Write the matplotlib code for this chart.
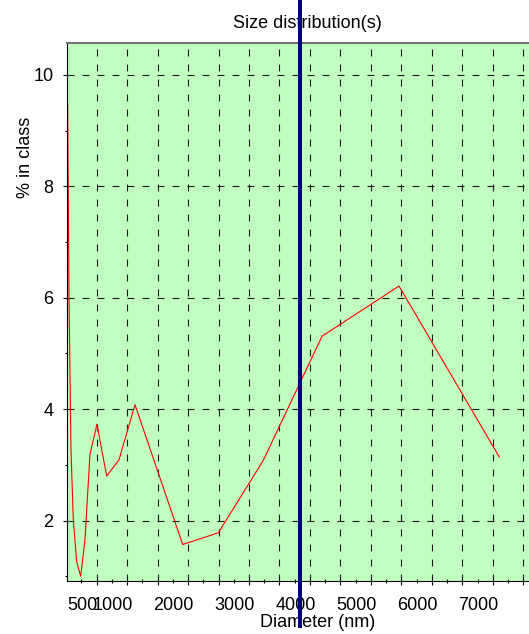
import matplotlib
matplotlib.use("Agg")
import matplotlib.pyplot as plt

plt.rcParams['font.family'] = ['Liberation Sans', 'DejaVu Sans']
plt.rcParams['lines.scale_dashes'] = False

# size distribution
diameter = [259, 281, 314, 351, 407, 473, 543, 625, 740, 899, 1101, 1364,
            2147, 2731, 3469, 4433, 5696, 7342]
percent = [9.47, 6.0, 3.26, 2.03, 1.26, 1.00, 1.65, 3.19, 3.73, 2.80, 3.09, 4.08,
           1.57, 1.78, 3.08, 5.31, 6.21, 3.14]

marker_x = 4070

x_labels = ['500', '1000', '2000', '3000', '4000', '5000', '6000', '7000']
x_label_pos = [500, 1000, 2000, 3000, 4000, 5000, 6000, 7000]
x_grid = [735 + 500 * k for k in range(15)]
x_minor = [485 + 500 * k for k in range(15)]
y_major = [2, 4, 6, 8, 10]
y_minor = [1, 3, 5, 7, 9]

fig = plt.figure(figsize=(5.29, 6.34), dpi=100)
ax = fig.add_axes([0.1272, 0.0836, 0.8728, 0.8491])
ax.set_facecolor('#c0ffc0')

ax.plot(diameter, percent, color='red', lw=0.8)
ax.axvline(marker_x, ymin=-0.0836, ymax=1.08, color='#000080', lw=2.9,
           clip_on=False, zorder=5)

ax.set_xlim(253, 7829)
ax.set_ylim(0.915, 10.58)

ax.set_xticks(x_grid)
ax.set_xticks(x_minor, minor=True)
ax.tick_params(axis='x', which='major', direction='inout', length=5.8,
               width=0.8, labelbottom=False)
ax.tick_params(axis='x', which='minor', direction='inout', length=3,
               width=0.8)

ax.set_yticks(y_major)
ax.set_yticks(y_minor, minor=True)
ax.tick_params(axis='y', which='major', direction='out', length=3, width=0.8,
               labelsize=13, pad=7)
ax.tick_params(axis='y', which='minor', direction='out', length=1.5, width=0.8)

ax.grid(True, which='major', color='#1a1a1a', lw=0.8, linestyle=(0, (5, 5.8)))

sec = ax.secondary_xaxis('bottom')
sec.set_xticks(x_label_pos, labels=x_labels)
sec.tick_params(length=0, labelsize=13, pad=11.3)
sec.spines['bottom'].set_visible(False)

ax.spines['right'].set_visible(False)
ax.spines['top'].set_color('#707070')
ax.spines['top'].set_linewidth(1.45)
ax.spines['left'].set_linewidth(0.8)
ax.spines['bottom'].set_linewidth(0.8)

ax.set_title('Size distribution(s)', fontsize=13, x=0.521, y=1.0267, pad=0)
ax.set_xlabel('Diameter (nm)', fontsize=13)
ax.xaxis.set_label_coords(0.542, -0.062)
ax.set_ylabel('% in class', fontsize=13)
ax.yaxis.set_label_coords(-0.0726, 0.787)

fig.savefig('out.png', dpi=100)
